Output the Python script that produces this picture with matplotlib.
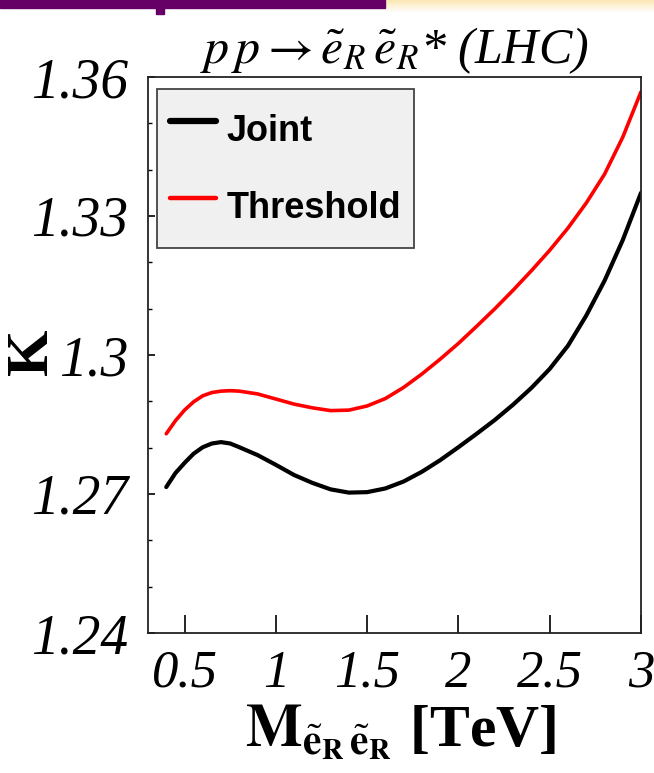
import numpy as np
import matplotlib
matplotlib.use("Agg")
import matplotlib.pyplot as plt
from matplotlib.patches import Rectangle
from matplotlib.colors import LinearSegmentedColormap
from matplotlib.ticker import FixedLocator, MultipleLocator

# K-factor vs slepton pair mass (TeV)
mass_joint = [0.4, 0.45, 0.5, 0.55, 0.6, 0.65, 0.7, 0.75, 0.8, 0.9, 1.0, 1.1, 1.2,
              1.3, 1.4, 1.5, 1.6, 1.7, 1.8, 1.9, 2.0, 2.1, 2.2, 2.3, 2.4, 2.5, 2.6,
              2.7, 2.8, 2.9, 3.0]
k_joint = [1.2715, 1.2745, 1.2767, 1.2787, 1.2801, 1.2809, 1.2812, 1.2809, 1.2801,
           1.2784, 1.2763, 1.2741, 1.2724, 1.2710, 1.2703, 1.2704, 1.2712, 1.2727,
           1.2748, 1.2773, 1.2801, 1.2830, 1.2860, 1.2893, 1.2929, 1.2970, 1.3020,
           1.3085, 1.3160, 1.3248, 1.3350]

mass_thr = [0.4, 0.45, 0.5, 0.55, 0.6, 0.65, 0.7, 0.75, 0.8, 0.9, 1.0, 1.1, 1.2,
            1.3, 1.4, 1.5, 1.6, 1.7, 1.8, 1.9, 2.0, 2.1, 2.2, 2.3, 2.4, 2.5, 2.6,
            2.7, 2.8, 2.9, 3.0]
k_thr = [1.2830, 1.2858, 1.2881, 1.2899, 1.2912, 1.2919, 1.2922, 1.2923, 1.2922,
         1.2916, 1.2905, 1.2894, 1.2886, 1.2880, 1.2881, 1.2890, 1.2906, 1.2930,
         1.2959, 1.2991, 1.3025, 1.3062, 1.3100, 1.3140, 1.3182, 1.3226, 1.3274,
         1.3328, 1.3390, 1.3470, 1.3568]

xticks = [0.5, 1.0, 1.5, 2.0, 2.5, 3.0]
xtick_labels = ['0.5', '1', '1.5', '2', '2.5', '3']
yticks = [1.24, 1.27, 1.30, 1.33, 1.36]
ytick_labels = ['1.24', '1.27', '1.3', '1.33', '1.36']

plt.rcParams['mathtext.fontset'] = 'stix'
plt.rcParams['font.family'] = ['Liberation Serif', 'DejaVu Serif']

W, H = 654, 773
fig = plt.figure(figsize=(W / 100, H / 100), dpi=100)

# slide banner along the top edge
fig.patches.append(Rectangle((0, 1 - 8 / H), 385 / W, 8 / H,
                             transform=fig.transFigure, color='#660066', zorder=5))
fig.patches.append(Rectangle((156 / W, 1 - 14 / H), 8 / W, 8 / H,
                             transform=fig.transFigure, color='#660066', zorder=5))
ax_bg = fig.add_axes([385 / W, 1 - 13 / H, 1 - 385 / W, 13 / H])
ax_bg.imshow(np.linspace(0, 1, 30).reshape(-1, 1), aspect='auto',
             cmap=LinearSegmentedColormap.from_list('band', ['#fbe7b5', '#ffffff']),
             extent=[0, 1, 0, 1])
ax_bg.axis('off')

ax = fig.add_axes([148 / W, 1 - 633 / H, 493 / W, 556 / H])
ax.plot(mass_joint, k_joint, color='black', lw=3.0, label='Joint',
        solid_joinstyle='round', solid_capstyle='round')
ax.plot(mass_thr, k_thr, color='#ff0000', lw=2.6, label='Threshold',
        solid_joinstyle='round', solid_capstyle='round')

ax.set_xlim(0.3, 3.0)
ax.set_ylim(1.24, 1.36)
ax.xaxis.set_major_locator(FixedLocator(xticks))
ax.set_xticklabels(xtick_labels)
ax.yaxis.set_major_locator(FixedLocator(yticks))
ax.set_yticklabels(ytick_labels)
ax.yaxis.set_minor_locator(MultipleLocator(0.01))

ax.tick_params(axis='x', which='major', direction='in', length=13, width=1.2,
               pad=12, labelsize=38)
ax.tick_params(axis='y', which='major', direction='in', length=5, width=1.2,
               pad=14, labelsize=40)
ax.tick_params(axis='y', which='minor', direction='in', length=3, width=1.0)
for lab in ax.get_xticklabels() + ax.get_yticklabels():
    lab.set_fontstyle('italic')
for sp in ax.spines.values():
    sp.set_linewidth(1.3)
    sp.set_color('#222222')

fig.text(33 / W, 1 - 352 / H, 'K', rotation=90, fontsize=43, fontweight='bold',
         ha='center', va='center')
ax.set_xlabel(r'$\mathbf{M}_{\tilde{\mathbf{e}}_{\mathbf{R}}\,\tilde{\mathbf{e}}_{\mathbf{R}}}$ [TeV]',
              fontsize=43, fontweight='bold')
ax.xaxis.set_label_coords(0.513, -0.124)
ax.set_title(r'$p\,p \rightarrow \tilde{e}_R\,\tilde{e}_R$* (LHC)',
             fontsize=36, fontstyle='italic', pad=10)

leg = ax.legend(loc='upper left', bbox_to_anchor=(0.018, 0.979), frameon=True,
                fancybox=False,
                prop={'family': 'Liberation Sans', 'weight': 'bold', 'size': 26},
                handlelength=1.3, handleheight=2.05, handletextpad=0.28,
                labelspacing=0.55, borderpad=0.35, borderaxespad=0)
leg.get_frame().set_facecolor('#f0f0f0')
leg.get_frame().set_edgecolor('#444444')
leg.get_frame().set_linewidth(1.3)
leg.get_frame().set_alpha(1)
leg.get_lines()[0].set_linewidth(4.5)
leg.get_lines()[1].set_linewidth(3.2)

fig.savefig('out.png', dpi=100)
